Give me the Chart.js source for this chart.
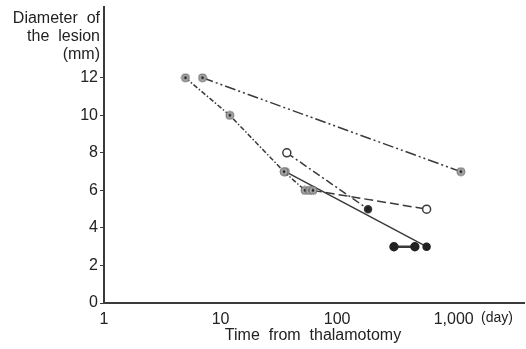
<!DOCTYPE html>
<html>
<head>
<meta charset="utf-8">
<script src="https://cdn.jsdelivr.net/npm/chart.js@4"></script>
<style>
  html, body { margin: 0; padding: 0; background: #fff; }
  #wrap { width: 526px; height: 349px; overflow: hidden; }
</style>
</head>
<body>
<div id="wrap"><canvas id="chart" width="531" height="349"></canvas></div>
<script>
// valores (dias, mm)
var s1Days = [7, 1150];
var s1Mm   = [12, 7];
var s2Days = [5, 12, 35, 53, 58, 62, 585];
var s2Mm   = [12, 10, 7, 6, 6, 6, 5];
var s3Days = [37, 184];
var s3Mm   = [8, 5];
var s4Days = [36, 585];
var s4Mm   = [7, 3];
var s5Days = [307, 464];
var s5Mm   = [3, 3];
var xTicks = [1, 10, 100, 1000];
var yTicks = [0, 2, 4, 6, 8, 10, 12];

var ink = '#3a3a3a';
var font = "'Liberation Sans', Arial, sans-serif";

function pts(xs, ys) {
  return xs.map(function(x, i){ return {x: x, y: ys[i]}; });
}

// marcador cinza com ponto escuro no centro
var grayDot = document.createElement('canvas');
grayDot.width = 10; grayDot.height = 10;
(function(){
  var c = grayDot.getContext('2d');
  c.beginPath(); c.arc(5, 5, 4, 0, Math.PI*2);
  c.fillStyle = '#a8a8a8'; c.fill();
  c.lineWidth = 1; c.strokeStyle = '#707070'; c.stroke();
  c.beginPath(); c.arc(5, 5, 1.4, 0, Math.PI*2);
  c.fillStyle = '#222'; c.fill();
})();

function dark(n) { var a = []; for (var i = 0; i < n; i++) a.push('#222'); return a; }

var textPlugin = {
  id: 'textos',
  afterDraw: function(chart) {
    var ctx = chart.ctx;
    ctx.save();
    ctx.fillStyle = '#222';
    ctx.font = '16px ' + font;
    ctx.textAlign = 'right';
    ctx.textBaseline = 'middle';
    ctx.fillText('Diameter  of', 100, 19);
    ctx.fillText('the  lesion', 100, 37);
    ctx.fillText('(mm)', 100, 55);
    ctx.textAlign = 'center';
    ctx.fillText('Time  from  thalamotomy', 313, 336);
    ctx.textAlign = 'left';
    ctx.font = '14px ' + font;
    ctx.fillText('(day)', 481, 318);
    ctx.restore();
  }
};

new Chart(document.getElementById('chart'), {
  type: 'scatter',
  data: {
    datasets: [
      {
        data: pts(s1Days, s1Mm), showLine: true,
        borderColor: ink, borderWidth: 1.5, borderDash: [11, 3, 2, 3, 2, 3],
        pointStyle: grayDot, pointRadius: 5
      },
      {
        data: pts(s2Days, s2Mm), showLine: true,
        borderColor: ink, borderWidth: 1.5,
        segment: {
          borderDash: function(ctx){ return ctx.p0DataIndex >= 5 ? [9, 4] : [5, 2, 1.5, 2]; }
        },
        pointStyle: [grayDot, grayDot, grayDot, grayDot, grayDot, grayDot, 'circle'],
        pointRadius: [5, 5, 5, 5, 5, 5, 4],
        pointBackgroundColor: '#fff', pointBorderColor: ink, pointBorderWidth: 1.5
      },
      {
        data: pts(s3Days, s3Mm), showLine: true,
        borderColor: ink, borderWidth: 1.5, borderDash: [8, 3, 2, 3],
        pointStyle: 'circle', pointRadius: [4, 3.5],
        pointBackgroundColor: ['#fff', '#222'], pointBorderColor: ink, pointBorderWidth: 1.5
      },
      {
        data: pts(s4Days, s4Mm), showLine: true,
        borderColor: ink, borderWidth: 1.5,
        pointStyle: [grayDot, 'circle'], pointRadius: [5, 3.5],
        pointBackgroundColor: dark(2), pointBorderColor: '#222'
      },
      {
        data: pts(s5Days, s5Mm), showLine: true,
        borderColor: ink, borderWidth: 2.4,
        pointStyle: 'circle', pointRadius: 3.5,
        pointBackgroundColor: dark(2), pointBorderColor: '#222'
      }
    ]
  },
  options: {
    responsive: false,
    animation: false,
    layout: { padding: { top: 4, right: 0, left: 0, bottom: 0 } },
    plugins: { legend: { display: false }, tooltip: { enabled: false } },
    scales: {
      x: {
        type: 'logarithmic', min: 1, max: 4045,
        afterFit: function(s){ s.height = 46; s.paddingLeft = 0; s.paddingRight = 0; },
        afterBuildTicks: function(s){ s.ticks = xTicks.map(function(v){ return {value: v}; }); },
        grid: { display: false },
        border: { display: true, color: ink, width: 2 },
        ticks: {
          color: '#222', font: { family: font, size: 16 }, padding: -1,
          autoSkip: false, maxRotation: 0,
          callback: function(v){ return v.toLocaleString('en-US'); }
        }
      },
      y: {
        min: 0, max: 15.8,
        afterFit: function(s){ s.width = 104; s.paddingTop = 0; s.paddingBottom = 0; },
        afterBuildTicks: function(s){ s.ticks = yTicks.map(function(v){ return {value: v}; }); },
        grid: { drawOnChartArea: false, tickLength: 4, color: ink },
        border: { display: true, color: ink, width: 2 },
        ticks: { color: '#222', font: { family: font, size: 16 }, padding: 2 }
      }
    }
  },
  plugins: [textPlugin]
});
</script>
</body>
</html>
